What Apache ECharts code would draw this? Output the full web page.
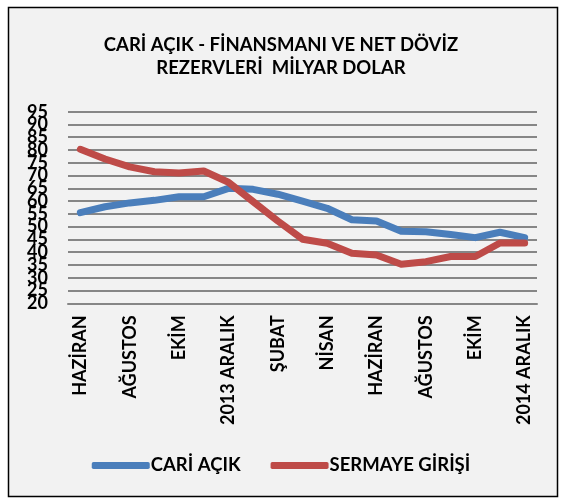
<!DOCTYPE html>
<html>
<head>
<meta charset="utf-8">
<script src="https://cdn.jsdelivr.net/npm/echarts@6/dist/echarts.min.js"></script>
<style>
  html, body { margin: 0; padding: 0; background: #fff; }
  #main { width: 562px; height: 500px; }
</style>
</head>
<body>
<div id="main"></div>
<script>
// aylar (Haziran 2013 - Aralık 2014)
var months = ['HAZİRAN', 'TEMMUZ', 'AĞUSTOS', 'EYLÜL', 'EKİM', 'KASIM', '2013 ARALIK',
  'OCAK', 'ŞUBAT', 'MART', 'NİSAN', 'MAYIS', 'HAZİRAN', 'TEMMUZ', 'AĞUSTOS',
  'EYLÜL', 'EKİM', 'KASIM', '2014 ARALIK'];

var cariAcik = [55.5, 57.8, 59.3, 60.3, 61.7, 61.7, 65, 64.6, 62.7, 60, 57.2,
  52.7, 52.2, 48.2, 48, 46.9, 45.7, 47.8, 45.7];

var sermayeGirisi = [80.3, 76.5, 73.4, 71.5, 71, 71.8, 67.4, 59.8, 52.2, 45.1,
  43.5, 39.6, 38.9, 35.3, 36.3, 38.3, 38.3, 43.6, 43.6];

var yMin = 20, yMax = 95, yStep = 5;

var font = 'Lato, "Open Sans", sans-serif';
var myChart = echarts.init(document.getElementById('main'));

// iki y ekseni: uç etiketler (20, 95) ayrı eksende,
// yoksa ECharts çakışan uç etiketleri gizliyor
function yAxisDef(showEnds) {
    return {
        type: 'value',
        position: 'left',
        min: yMin,
        max: yMax,
        interval: yStep,
        axisLine: { show: false },
        axisTick: { show: false },
        splitLine: { show: !showEnds, lineStyle: { color: '#868686', width: 2 } },
        axisLabel: {
            margin: 20,
            fontFamily: font,
            fontWeight: 'bold',
            fontSize: 18,
            color: '#000',
            formatter: function (v) {
                var isEnd = (v === yMin || v === yMax);
                return isEnd === showEnds ? String(v) : '';
            }
        }
    };
}

myChart.setOption({
    backgroundColor: '#ffffff',
    animation: false,
    graphic: [
        {
            type: 'rect',
            z: -10,
            shape: { x: 8.5, y: 7.5, width: 549, height: 489 },
            style: { fill: '#f2f2f2', stroke: '#000', lineWidth: 1.5 }
        }
    ],
    title: {
        text: 'CARİ AÇIK - FİNANSMANI VE NET DÖVİZ\nREZERVLERİ  MİLYAR DOLAR',
        left: 'center',
        top: 29,
        textStyle: {
            fontFamily: font,
            fontWeight: 'bold',
            fontSize: 18.5,
            lineHeight: 23,
            color: '#000'
        }
    },
    legend: {
        bottom: 20,
        left: 'center',
        itemWidth: 58,
        itemHeight: 7,
        itemGap: 30,
        icon: 'roundRect',
        textStyle: {
            fontFamily: font,
            fontWeight: 'bold',
            fontSize: 18.5,
            color: '#000',
            padding: [0, 0, 0, -4]
        },
        data: ['CARİ AÇIK', 'SERMAYE GİRİŞİ']
    },
    grid: {
        left: 68,
        right: 25,
        top: 111.7,
        bottom: 196.7
    },
    xAxis: {
        type: 'category',
        data: months,
        boundaryGap: true,
        axisTick: { show: false },
        axisLine: { lineStyle: { color: '#868686', width: 2 } },
        axisLabel: {
            interval: 1,
            rotate: 90,
            margin: 12,
            fontFamily: font,
            fontWeight: 'bold',
            fontSize: 18,
            color: '#000'
        }
    },
    yAxis: [yAxisDef(false), yAxisDef(true)],
    series: [
        {
            name: 'CARİ AÇIK',
            type: 'line',
            data: cariAcik,
            symbol: 'none',
            color: '#4a7ebb',
            lineStyle: { width: 7, cap: 'round', join: 'round' }
        },
        {
            name: 'SERMAYE GİRİŞİ',
            type: 'line',
            data: sermayeGirisi,
            symbol: 'none',
            color: '#be4b48',
            lineStyle: { width: 7, cap: 'round', join: 'round' }
        }
    ]
});
</script>
</body>
</html>
